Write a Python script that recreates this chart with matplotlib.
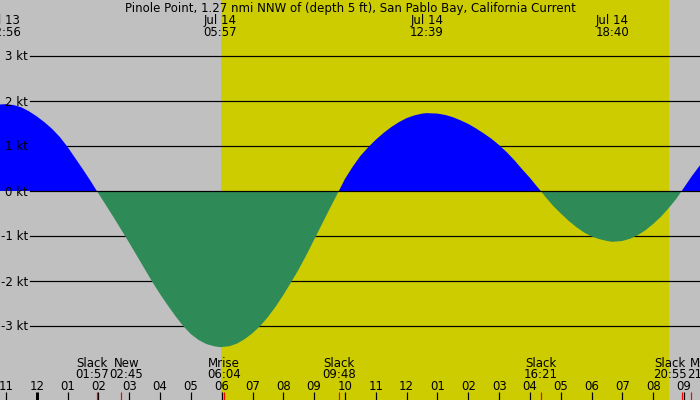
"""Tidal current chart for Pinole Point, San Pablo Bay."""

import matplotlib
matplotlib.use("Agg")
import matplotlib.pyplot as plt

# current speed (hours from midnight Jul 14, knots)
hours = [-1.25, -1.0, -0.75, -0.5, -0.25, 0.0, 0.25, 0.5, 0.75, 1.0,
         1.25, 1.5, 1.75, 1.95,
         2.0, 2.25, 2.5, 2.75, 3.0, 3.25, 3.5, 3.75, 4.0, 4.25,
         4.5, 4.75, 5.0, 5.25, 5.5, 5.75, 5.95, 6.25, 6.5, 6.75,
         7.0, 7.25, 7.5, 7.75, 8.0, 8.25, 8.5, 8.75, 9.0, 9.25,
         9.5, 9.8,
         10.0, 10.25, 10.5, 10.75, 11.0, 11.25, 11.5, 11.75, 12.0, 12.25,
         12.5, 12.65, 13.0, 13.25, 13.5, 13.75, 14.0, 14.25, 14.5, 14.75,
         15.0, 15.25, 15.5, 15.75, 16.0, 16.25, 16.35,
         16.5, 16.75, 17.0, 17.25, 17.5, 17.75, 18.0, 18.25, 18.5, 18.67,
         19.0, 19.25, 19.5, 19.75, 20.0, 20.25, 20.5, 20.75, 20.92,
         21.25, 21.6]
speed = [1.92, 1.93, 1.91, 1.86, 1.77, 1.66, 1.53, 1.38, 1.20, 0.98,
         0.73, 0.48, 0.22, 0.0,
         -0.05, -0.32, -0.59, -0.87, -1.15, -1.44, -1.73, -2.02, -2.29, -2.54,
         -2.78, -3.00, -3.18, -3.31, -3.40, -3.45, -3.47, -3.45, -3.39, -3.29,
         -3.16, -3.00, -2.80, -2.57, -2.31, -2.03, -1.74, -1.42, -1.08, -0.74,
         -0.40, 0.0,
         0.27, 0.54, 0.78, 0.97, 1.14, 1.29, 1.42, 1.53, 1.62, 1.68,
         1.72, 1.73, 1.72, 1.69, 1.64, 1.57, 1.49, 1.39, 1.28, 1.16,
         1.02, 0.86, 0.68, 0.48, 0.29, 0.08, 0.0,
         -0.13, -0.33, -0.50, -0.66, -0.80, -0.92, -1.01, -1.07, -1.11, -1.13,
         -1.11, -1.06, -0.98, -0.87, -0.73, -0.57, -0.38, -0.17, 0.0,
         0.33, 0.65]

# daylight
sun_up = 5.97
sun_down = 20.52

# max current times along the top
peak_hours = [-1.067, 5.95, 12.65, 18.667]
peak_dates = ["Jul 13", "Jul 14", "Jul 14", "Jul 14"]
peak_times = ["22:56", "05:57", "12:39", "18:40"]

# slack / moon events along the bottom
event_hours = [1.95, 2.75, 6.067, 9.8, 16.35, 20.917, 21.233]
event_names = ["Slack", "New", "Mrise", "Slack", "Slack", "Slack", "Mset"]
event_times = ["01:57", "02:45", "06:04", "09:48", "16:21", "20:55", "21:14"]

hour_ticks = list(range(-1, 22))
hour_labels = [f"{(h - 1) % 12 + 1:02d}" for h in hour_ticks]
kt_levels = [3, 2, 1, 0, -1, -2, -3]
kt_labels = [f"{k} kt" for k in kt_levels]

title = "Pinole Point, 1.27 nmi NNW of (depth 5 ft), San Pablo Bay, California Current"

W, H = 700, 400
GRAY = "#c0c0c0"
YELLOW = "#cccc00"
BLUE = "#0000ff"
GREEN = "#2e8b57"
PX = 0.72  # points per pixel at 100 dpi
FS = 8.5


def ay(py):
    """Pixel row from the top -> axes fraction."""
    return 1 - py / H


fig = plt.figure(figsize=(7, 4), dpi=100, facecolor=GRAY)
ax = fig.add_axes([0, 0, 1, 1])
ax.set_facecolor(GRAY)
ax.set_xlim(-36.7 / 30.83, (W - 36.7) / 30.83)
ax.set_ylim(-209 / 45, 191 / 45)
for s in ax.spines.values():
    s.set_visible(False)
ax.set_xticks([])
ax.set_yticks([])

xt = ax.get_xaxis_transform()

# daylight band
ax.axvspan(sun_up, sun_down, color=YELLOW, lw=0, zorder=0)

# grid lines
for k in kt_levels:
    if k != 0:
        ax.axhline(k, xmin=30 / W, color="black", lw=1.2 * PX, zorder=1)

# current
ax.fill_between(hours, speed, 0, where=[v >= 0 for v in speed],
                interpolate=True, color=BLUE, lw=0, zorder=2)
ax.fill_between(hours, speed, 0, where=[v <= 0 for v in speed],
                interpolate=True, color=GREEN, lw=0, zorder=2)
ax.axhline(0, xmin=30 / W, color="black", lw=1.2 * PX, zorder=3)

# kt labels
for k, lab in zip(kt_levels, kt_labels):
    ax.annotate(lab, (28 / W, k), xycoords=("axes fraction", "data"),
                xytext=(0, -4.5 * PX), textcoords="offset points",
                ha="right", va="baseline", fontsize=FS, zorder=4)

# title and top labels
ax.text(0.5, ay(12), title, transform=ax.transAxes, ha="center",
        va="baseline", fontsize=FS)
for h, d, t in zip(peak_hours, peak_dates, peak_times):
    ax.text(h, ay(24), d, transform=xt, ha="center", va="baseline", fontsize=FS)
    ax.text(h, ay(36), t, transform=xt, ha="center", va="baseline", fontsize=FS)

# hour ticks
for h, lab in zip(hour_ticks, hour_labels):
    lw = 3 * PX if h == 0 else 1.2 * PX
    ax.plot([h, h], [0, 8 / H], transform=xt, color="black", lw=lw,
            solid_capstyle="butt", zorder=4)
    ax.text(h, ay(390), lab, transform=xt, ha="center", va="baseline",
            fontsize=FS)

# event ticks and labels (close pairs pushed apart)
shift = [-5, 5, 0, 0, 0, -12, 13]
for h, n, t, dx in zip(event_hours, event_names, event_times, shift):
    ax.plot([h, h], [0, 8.5 / H], transform=xt, color="red", lw=1.2 * PX,
            solid_capstyle="butt", zorder=5)
    for txt, py in ((n, 366.7), (t, 378.3)):
        ax.annotate(txt, (h, ay(py)), xycoords=xt, xytext=(dx * PX, 0),
                    textcoords="offset points", ha="center", va="baseline",
                    fontsize=FS)

fig.savefig("out.png", dpi=100, facecolor=GRAY)
